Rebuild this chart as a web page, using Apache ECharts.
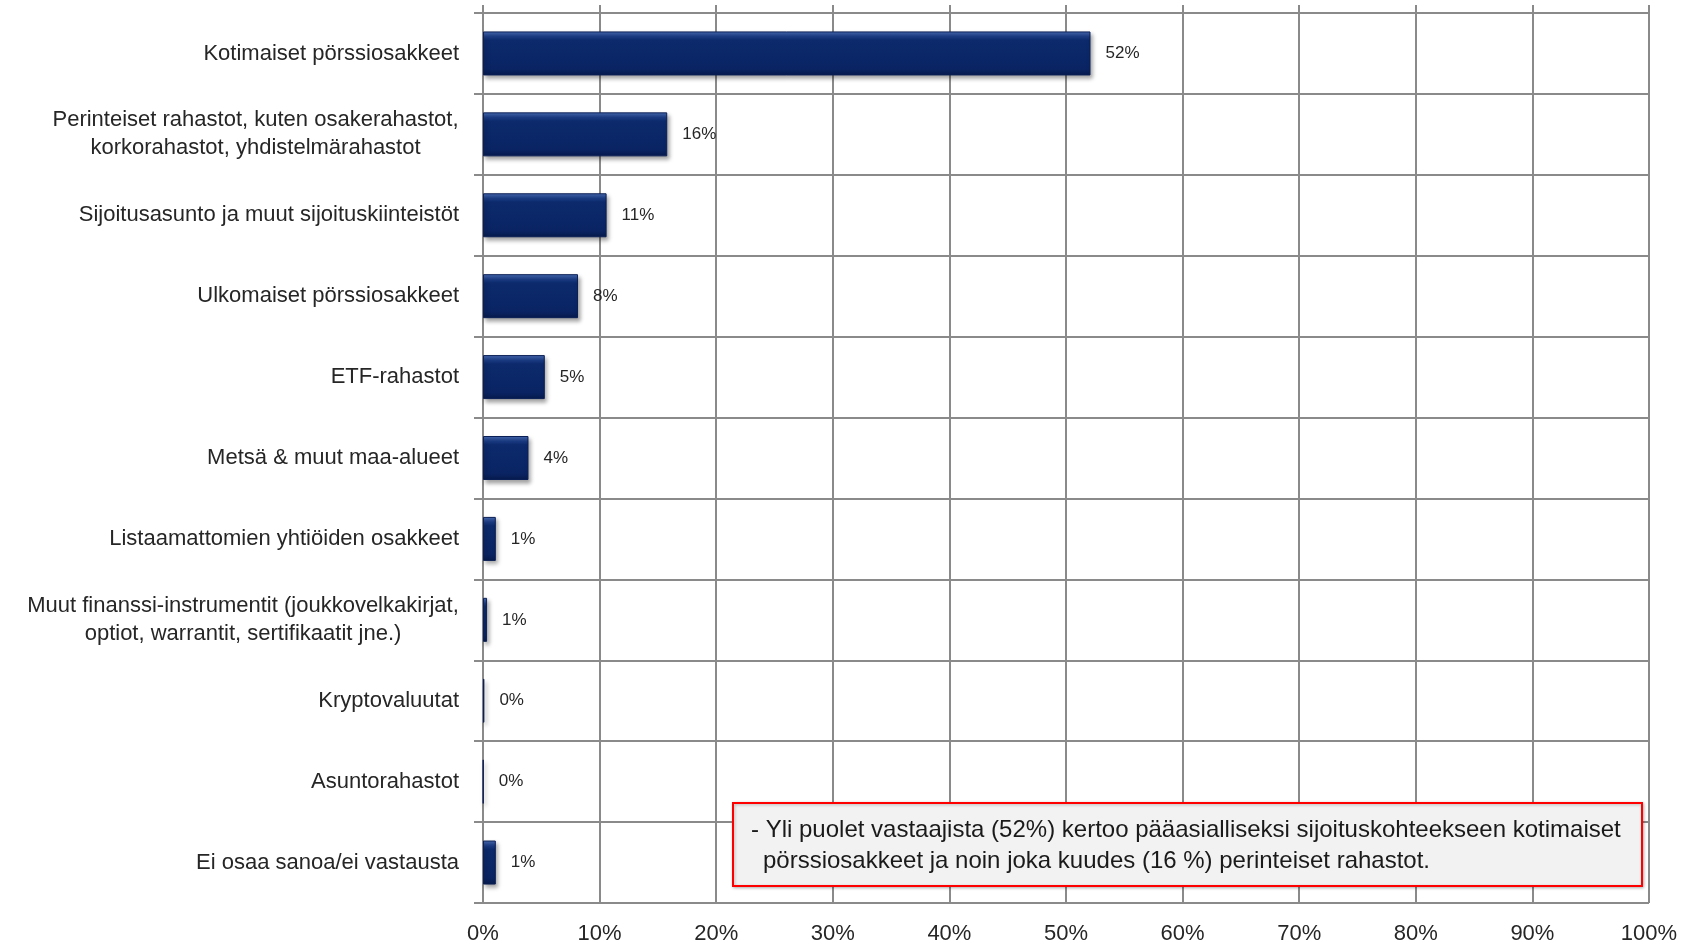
<!DOCTYPE html>
<html>
<head>
<meta charset="utf-8">
<script src="https://cdn.jsdelivr.net/npm/echarts@6/dist/echarts.min.js"></script>
<style>
html,body{margin:0;padding:0;background:#fff;}
#chart{width:1689px;height:946px;}
</style>
</head>
<body>
<div id="chart"></div>
<script>
const categories = [
  'Kotimaiset pörssiosakkeet',
  'Perinteiset rahastot, kuten osakerahastot,\nkorkorahastot, yhdistelmärahastot',
  'Sijoitusasunto ja muut sijoituskiinteistöt',
  'Ulkomaiset pörssiosakkeet',
  'ETF-rahastot',
  'Metsä & muut maa-alueet',
  'Listaamattomien yhtiöiden osakkeet',
  'Muut finanssi-instrumentit (joukkovelkakirjat,\noptiot, warrantit, sertifikaatit jne.)',
  'Kryptovaluutat',
  'Asuntorahastot',
  'Ei osaa sanoa/ei vastausta'
];
const values = [52.1, 15.8, 10.6, 8.15, 5.3, 3.9, 1.1, 0.35, 0.12, 0.04, 1.1];
const valueLabels = ['52%', '16%', '11%', '8%', '5%', '4%', '1%', '1%', '0%', '0%', '1%'];
const xTicks = [0, 10, 20, 30, 40, 50, 60, 70, 80, 90, 100];
const noteLines = [
  '- Yli puolet vastaajista (52%) kertoo pääasialliseksi sijoituskohteekseen kotimaiset',
  'pörssiosakkeet ja noin joka kuudes (16 %) perinteiset rahastot.'
];

const FONT = '"Liberation Sans", Arial, sans-serif';
const CAT_SIZE = 22;
const GRID_COLOR = '#8a8a8a';

const ctx = document.createElement('canvas').getContext('2d');
ctx.font = CAT_SIZE + 'px ' + FONT;
function lineWidthOf(v) {
  return Math.ceil(Math.max.apply(null, v.split('\n').map(l => ctx.measureText(l).width)));
}
function catLabel(v) {
  const lines = v.split('\n');
  if (lines.length === 1) return v;
  const w = lineWidthOf(v);
  return lines.map(l => '{c' + w + '|' + l + '}').join('\n');
}
const rich = {};
categories.forEach(c => {
  if (c.indexOf('\n') >= 0) {
    const w = lineWidthOf(c);
    rich['c' + w] = { width: w, align: 'center', fontSize: CAT_SIZE, fontFamily: FONT, color: '#262626', lineHeight: 28 };
  }
});

const chart = echarts.init(document.getElementById('chart'));
chart.setOption({
  backgroundColor: '#ffffff',
  animation: false,
  grid: { left: 483, right: 40, top: 13, bottom: 43, containLabel: false },
  xAxis: [{
    type: 'value', min: xTicks[0], max: xTicks[xTicks.length - 1], interval: 10,
    axisLine: { show: false },
    axisTick: { show: false },
    axisLabel: { formatter: '{value}%', fontSize: 22, fontFamily: FONT, color: '#262626', margin: 20 },
    splitLine: { show: true, lineStyle: { color: GRID_COLOR, width: 2 } }
  }, {
    type: 'value', position: 'top', min: 0, max: 100, interval: 10,
    axisLine: { show: false },
    axisTick: { show: true, length: 8, lineStyle: { color: GRID_COLOR, width: 2 } },
    axisLabel: { show: false },
    splitLine: { show: false }
  }],
  yAxis: {
    type: 'category', inverse: true, data: categories,
    axisLine: { show: true, lineStyle: { color: GRID_COLOR, width: 2 } },
    axisTick: { show: true, length: 9, lineStyle: { color: GRID_COLOR, width: 2 } },
    axisLabel: {
      fontSize: CAT_SIZE, fontFamily: FONT, color: '#262626', margin: 24, lineHeight: 28,
      formatter: catLabel, rich: rich
    },
    splitLine: { show: true, lineStyle: { color: GRID_COLOR, width: 2 } }
  },
  series: [{
    type: 'bar', xAxisIndex: 0, data: values, barWidth: 44,
    itemStyle: {
      color: new echarts.graphic.LinearGradient(0, 0, 0, 1, [
        { offset: 0, color: '#4a6db5' },
        { offset: 0.12, color: '#1b3c86' },
        { offset: 0.2, color: '#0c2a6c' },
        { offset: 0.85, color: '#0a2463' },
        { offset: 1, color: '#061a4c' }
      ]),
      borderColor: '#0a1f55', borderWidth: 1,
      shadowColor: 'rgba(0,0,0,0.35)', shadowBlur: 4, shadowOffsetX: 2, shadowOffsetY: 3
    },
    label: {
      show: true, position: 'right', distance: 15,
      fontSize: 17, fontFamily: FONT, color: '#262626',
      formatter: p => valueLabels[p.dataIndex]
    }
  }],
  graphic: [{
    type: 'group', left: 732, top: 802, z: 100,
    children: [{
      type: 'rect', z: 100, shape: { x: 0, y: 0, width: 909, height: 83 },
      style: { fill: '#f2f2f2', stroke: '#ff0000', lineWidth: 2,
               shadowColor: 'rgba(0,0,0,0.25)', shadowBlur: 3, shadowOffsetX: 1, shadowOffsetY: 1 }
    }, {
      type: 'text', z: 101, x: 18, y: 27,
      style: { text: noteLines[0], fontSize: 24, fontFamily: FONT, fill: '#1a1a1a', verticalAlign: 'middle' }
    }, {
      type: 'text', z: 101, x: 30, y: 58,
      style: { text: noteLines[1], fontSize: 24, fontFamily: FONT, fill: '#1a1a1a', verticalAlign: 'middle' }
    }]
  }]
});
</script>
</body>
</html>
